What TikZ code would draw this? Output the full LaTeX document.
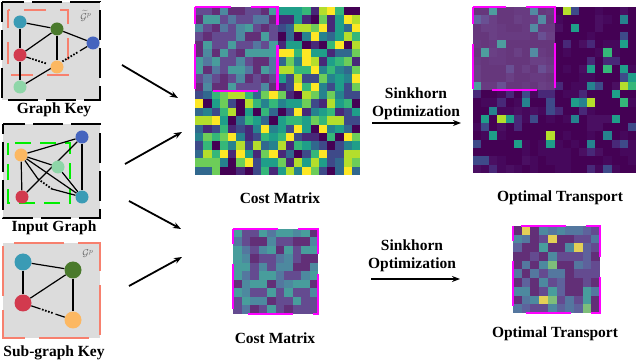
\documentclass[tikz,border=0pt]{standalone}
\usepackage{fontspec}
\setmainfont{Liberation Serif}
\usetikzlibrary{arrows.meta,calc}
\definecolor{vA}{HTML}{440154}\definecolor{vB}{HTML}{482878}\definecolor{vC}{HTML}{3E4A89}
\definecolor{vD}{HTML}{31688E}\definecolor{vE}{HTML}{26828E}\definecolor{vF}{HTML}{1F9E89}
\definecolor{vG}{HTML}{35B779}\definecolor{vH}{HTML}{6DCD59}\definecolor{vI}{HTML}{B4DE2C}
\definecolor{vJ}{HTML}{FDE725}\definecolor{vK}{HTML}{46085C}\definecolor{vL}{HTML}{4A0F62}
\definecolor{gteal}{HTML}{3A9BB5}\definecolor{ggreen}{HTML}{4A7A2C}\definecolor{gred}{HTML}{D23A4E}
\definecolor{gorange}{HTML}{FCB862}\definecolor{gblue}{HTML}{4564BE}\definecolor{glight}{HTML}{8ED6A8}
\definecolor{panelgray}{HTML}{DCDCDC}\definecolor{salmonc}{HTML}{F7806E}\definecolor{pinkf}{HTML}{FF00FF}
\definecolor{greenf}{HTML}{00EE00}\definecolor{lav}{HTML}{A89CC8}
\newcommand{\vcol}[1]{\ifcase#1 vA\or vB\or vC\or vD\or vE\or vF\or vG\or vH\or vI\or vJ\or vK\or vL\fi}
\begin{document}
\begin{tikzpicture}[x=1pt,y=-1pt,
  lbl/.style={font=\fontsize{15.5}{17.5}\selectfont\bfseries, inner sep=0pt},
  gnode/.style={circle, minimum size=13pt, inner sep=0pt},
  bnode/.style={circle, minimum size=17pt, inner sep=0pt},
  edge/.style={line width=1.2pt, black},
  dotsl/.style={line width=1.8pt, black, dash pattern=on 1.6pt off 1.6pt},
  flow/.style={line width=1.8pt, -{Stealth[length=8pt,width=6pt]}},
  blackframe/.style={line width=2.5pt, black, dash pattern=on 30pt off 8pt},
  pinkframe/.style={line width=2.8pt, pinkf, dash pattern=on 45pt off 20pt, dash phase=28pt},
  mat/.style={anchor=north west, inner sep=0pt}]
\useasboundingbox (0,0) rectangle (640,363);
% ---------- Graph Key ----------
\fill[panelgray] (2,2) rectangle (100,100);
\draw[blackframe, dash phase=10pt] (2,2) rectangle (100,100);
\draw[line width=2.5pt, salmonc, dash pattern=on 22pt off 14pt, dash phase=4pt] (8,10) rectangle (68,75);
\node[gnode] (k1) at (20,22) {};
\node[gnode] (k2) at (57,29) {};
\node[gnode] (k3) at (20,55) {};
\node[gnode] (k4) at (57,67) {};
\node[gnode] (k5) at (93,43) {};
\node[gnode] (k6) at (20,87) {};
\draw[edge] (k1) -- (k3); \draw[edge] (k1) -- (k2); \draw[edge] (k2) -- (k3);
\draw[edge] (k2) -- (k4); \draw[edge] (k2) -- (k5); \draw[edge] (k3) -- (k6);
\draw[edge] (k3) -- ($(k3)!0.3!(k4)$); \draw[dotsl] ($(k3)!0.33!(k4)$) -- ($(k3)!0.72!(k4)$);
\draw[edge] (k6) -- ($(k6)!0.55!(k5)$); \draw[dotsl] ($(k6)!0.58!(k5)$) -- ($(k6)!0.8!(k5)$);
\draw[edge] ($(k6)!0.82!(k5)$) -- (k5);
\foreach \n/\c in {k1/gteal,k2/ggreen,k3/gred,k4/gorange,k5/gblue,k6/glight}{\fill[\c] (\n) circle (6.5pt);}
\node[text=black!60, font=\normalsize, inner sep=0pt] (kp) at (86,16) {$\widetilde{\mathcal{G}}^{p}$};
\node[lbl] (klab) at (54,110) {Graph Key};
% ---------- Input Graph ----------
\fill[panelgray] (3,124) rectangle (100,218);
\draw[blackframe, dash phase=20pt] (3,124) rectangle (100,218);
\draw[line width=2.5pt, greenf, dash pattern=on 16pt off 9pt, dash phase=4pt] (8,143) rectangle (70,203);
\node[gnode] (i1) at (82,137) {};
\node[gnode] (i2) at (21,155) {};
\node[gnode] (i3) at (58,167) {};
\node[gnode] (i4) at (22,197) {};
\node[gnode] (i5) at (82,197) {};
\coordinate (id1) at (38,179); \coordinate (id2) at (52,189);
\draw[edge] (i2) -- (i1); \draw[edge] (i2) -- (i4); \draw[edge] (i2) -- (i3);
\draw[edge] (i2) -- (i5); \draw[edge] (i4) -- (i1); \draw[edge] (i3) -- (i5);
\draw[edge] (i1) -- (i5);
\draw[edge] (i2) -- (id1); \draw[dotsl] (id1) -- (id2); \draw[edge] (id2) -- (i5);
\foreach \n/\c in {i1/gblue,i2/gorange,i3/glight,i4/gred,i5/gteal}{\fill[\c] (\n) circle (6.5pt);}
\node[lbl] (ilab) at (54,228) {Input Graph};
% ---------- Sub-graph Key ----------
\fill[panelgray] (3,243) rectangle (100,338);
\draw[line width=2.8pt, salmonc, dash pattern=on 50pt off 14pt, dash phase=-3pt] (3,243) rectangle (100,338);
\node[bnode] (s1) at (23,262) {};
\node[bnode] (s2) at (73,270) {};
\node[bnode] (s3) at (23,303) {};
\node[bnode] (s4) at (73,320) {};
\draw[edge] (s1) -- (s2); \draw[edge] (s1) -- (s3); \draw[edge] (s2) -- (s3); \draw[edge] (s2) -- (s4);
\draw[edge] (s3) -- ($(s3)!0.35!(s4)$); \draw[dotsl] ($(s3)!0.38!(s4)$) -- ($(s3)!0.62!(s4)$);
\draw[edge] ($(s3)!0.65!(s4)$) -- (s4);
\foreach \n/\c in {s1/gteal,s2/ggreen,s3/gred,s4/gorange}{\fill[\c] (\n) circle (8.5pt);}
\node[text=black!60, font=\normalsize, inner sep=0pt] (sp) at (88,254) {$\mathcal{G}^{p}$};
\node[lbl] (slab) at (54,353) {Sub-graph Key};
% ---------- Top cost matrix ----------
\pgfmathsetseed{11}
\node[mat, minimum width=165pt, minimum height=168pt] (cm1) at (195,7) {};
\foreach \i in {0,...,19}{\foreach \j in {0,...,19}{%
  \pgfmathrandominteger{\k}{0}{9}%
  \ifnum\i<10 \ifnum\j<10 \pgfmathrandominteger{\r}{0}{9}%
    \ifnum\r<2 \def\k{0}\else\ifnum\r<5 \def\k{1}\else\ifnum\r<6 \def\k{3}\else\ifnum\r<8 \def\k{4}\else \def\k{5}\fi\fi\fi\fi
  \fi\fi
  \fill[\vcol{\k}] ({195+\i*8.25},{7+\j*8.4}) rectangle ++(8.45,8.6);}}
\fill[lav, opacity=0.3] (195,7) rectangle (277.5,91);
\draw[pinkframe] (195,7) rectangle (277.5,91);
\node[lbl] (cl1) at (280,198) {Cost Matrix};
% ---------- Top optimal transport ----------
\node[mat, minimum width=163pt, minimum height=166pt] (ot1) at (473,7) {};
\foreach \i in {0,...,19}{\foreach \j in {0,...,19}{%
  \pgfmathrandominteger{\r}{0}{99}%
  \ifnum\r<45 \def\k{0}\else\ifnum\r<70 \def\k{10}\else\ifnum\r<80 \def\k{11}\else\ifnum\r<86 \def\k{1}\else\ifnum\r<90 \def\k{2}\else
  \ifnum\r<94 \def\k{4}\else\ifnum\r<97 \def\k{5}\else\ifnum\r<99 \def\k{6}\else \def\k{8}\fi\fi\fi\fi\fi\fi\fi\fi
  \fill[\vcol{\k}] ({473+\i*8.15},{7+\j*8.3}) rectangle ++(8.35,8.5);}}
\fill[lav, opacity=0.35] (473,7) rectangle (555,90);
\draw[pinkframe] (473,7) rectangle (555,90);
\node[lbl] (ol1) at (560,198) {Optimal Transport};
% ---------- Bottom cost matrix ----------
\node[mat, minimum width=85pt, minimum height=85pt] (cm2) at (233,229) {};
\foreach \i in {0,...,9}{\foreach \j in {0,...,9}{%
  \pgfmathrandominteger{\r}{0}{9}%
  \ifnum\r<2 \def\k{0}\else\ifnum\r<5 \def\k{1}\else\ifnum\r<6 \def\k{3}\else\ifnum\r<8 \def\k{4}\else \def\k{5}\fi\fi\fi\fi
  \fill[\vcol{\k}] ({233+\i*8.5},{229+\j*8.5}) rectangle ++(8.7,8.7);}}
\fill[lav, opacity=0.3] (233,229) rectangle (318,314);
\draw[pinkframe, dash phase=30pt] (233,229) rectangle (318,314);
\node[lbl] (cl2) at (275,338) {Cost Matrix};
% ---------- Bottom optimal transport ----------
\node[mat, minimum width=87pt, minimum height=87pt] (ot2) at (513,226) {};
\foreach \i in {0,...,9}{\foreach \j in {0,...,9}{%
  \pgfmathrandominteger{\r}{0}{99}%
  \ifnum\r<35 \def\k{0}\else\ifnum\r<55 \def\k{1}\else\ifnum\r<68 \def\k{2}\else\ifnum\r<78 \def\k{3}\else
  \ifnum\r<88 \def\k{4}\else\ifnum\r<93 \def\k{5}\else\ifnum\r<96 \def\k{7}\else \def\k{9}\fi\fi\fi\fi\fi\fi\fi
  \fill[\vcol{\k}] ({513+\i*8.7},{226+\j*8.7}) rectangle ++(8.9,8.9);}}
\fill[lav, opacity=0.3] (513,226) rectangle (600,313);
\draw[pinkframe, dash phase=30pt] (513,226) rectangle (600,313);
\node[lbl] (ol2) at (555,334) {Optimal Transport};
% ---------- Sinkhorn labels and arrows ----------
\node[lbl, align=center] (sk1) at (416,104) {Sinkhorn\\[1pt]Optimization};
\node[lbl, align=center] (sk2) at (412,256) {Sinkhorn\\[1pt]Optimization};
\coordinate (s1a) at (372,123); \coordinate (s1b) at (461,123);
\coordinate (s2a) at (371,279); \coordinate (s2b) at (460,279);
\draw[flow] (s1a) -- (s1b);
\draw[flow] (s2a) -- (s2b);
% ---------- input arrows ----------
\coordinate (a1a) at (122,65);  \coordinate (a1b) at (178,98);
\coordinate (a2a) at (125,164); \coordinate (a2b) at (182,132);
\coordinate (a3a) at (129,201); \coordinate (a3b) at (181,229);
\coordinate (a4a) at (129,286); \coordinate (a4b) at (182,257);
\draw[flow] (a1a) -- (a1b);
\draw[flow] (a2a) -- (a2b);
\draw[flow] (a3a) -- (a3b);
\draw[flow] (a4a) -- (a4b);
\end{tikzpicture}
\end{document}
